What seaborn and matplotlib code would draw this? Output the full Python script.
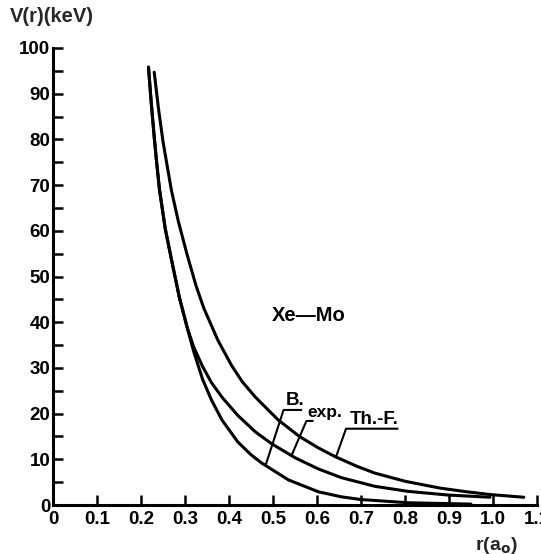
import numpy as np
import pandas as pd
import matplotlib
matplotlib.use("Agg")
import matplotlib.pyplot as plt
import seaborn as sns

# ---- data ----
thf_r = [0.230, 0.240, 0.250, 0.269, 0.285, 0.305, 0.325, 0.343, 0.375, 0.406, 0.430, 0.460,
         0.512, 0.560, 0.603, 0.641, 0.690, 0.731, 0.800, 0.880, 0.940, 0.993, 1.070]
thf_v = [94.7, 86.5, 79.5, 68.9, 62.0, 54.7, 48.0, 43.0, 36.0, 30.5, 27.0, 23.6,
         18.6, 15.0, 12.5, 10.6, 8.5, 7.0, 5.2, 3.7, 2.9, 2.3, 1.7]

common_r = [0.217, 0.223, 0.230, 0.236, 0.242, 0.255, 0.269, 0.287, 0.305]
common_v = [95.8, 88.3, 80.5, 74.5, 69.0, 60.5, 53.8, 45.5, 38.8]

exp_r = common_r + [0.320, 0.340, 0.360, 0.384, 0.420, 0.460, 0.497, 0.551, 0.603, 0.655,
                    0.731, 0.806, 0.896, 0.993]
exp_v = common_v + [34.5, 30.3, 26.8, 23.6, 19.6, 16.0, 13.4, 10.3, 7.9, 6.0,
                    4.1, 3.0, 2.2, 1.7]

b_r = common_r + [0.320, 0.340, 0.360, 0.384, 0.420, 0.450, 0.474, 0.535, 0.603, 0.655,
                  0.700, 0.806, 0.950]
b_v = common_v + [33.5, 27.5, 23.0, 18.6, 13.8, 11.0, 9.2, 5.5, 2.9, 1.8,
                  1.2, 0.5, 0.2]

x_ticks = [0, 0.1, 0.2, 0.3, 0.4, 0.5, 0.6, 0.7, 0.8, 0.9, 1.0, 1.1]
x_labels = ["0", "0.1", "0.2", "0.3", "0.4", "0.5", "0.6", "0.7", "0.8", "0.9", "1.0", "1.1"]
y_ticks = [0, 10, 20, 30, 40, 50, 60, 70, 80, 90, 100]
y_labels = [str(v) for v in y_ticks]

curve_names = ["B.", "exp.", "Th.-F."]

df = pd.concat([
    pd.DataFrame({"r": b_r, "V": b_v, "curve": "B."}),
    pd.DataFrame({"r": exp_r, "V": exp_v, "curve": "exp."}),
    pd.DataFrame({"r": thf_r, "V": thf_v, "curve": "Th.-F."}),
], ignore_index=True)

sns.set_style("ticks")
plt.rcParams["font.family"] = ["Liberation Sans", "DejaVu Sans"]
plt.rcParams["font.weight"] = "bold"

fig = plt.figure(figsize=(5.41, 5.54), dpi=100)
ax = fig.add_axes([0.098, 0.0884, 0.8946, 0.825])

for name in curve_names:
    sub = df[df["curve"] == name]
    sns.lineplot(data=sub, x="r", y="V", ax=ax, color="black", lw=2.2,
                 sort=False, estimator=None, legend=False)

ax.set_xlim(0, 1.1)
ax.set_ylim(0, 100)
ax.set_xlabel("")
ax.set_ylabel("")
sns.despine(ax=ax)
for s in ["left", "bottom"]:
    ax.spines[s].set_linewidth(2.2)
    ax.spines[s].set_color("black")

ax.set_xticks(x_ticks)
ax.set_xticklabels(x_labels)
ax.set_yticks(y_ticks)
ax.set_yticklabels(y_labels)
ax.set_yticks(np.arange(5, 100, 10), minor=True)
ax.tick_params(axis="both", which="both", direction="in", length=7.5, width=1.8,
               color="black", labelsize=13.5, labelcolor="black")
ax.tick_params(axis="y", pad=2)
ax.tick_params(axis="x", pad=4)
for lab in ax.get_xticklabels() + ax.get_yticklabels():
    lab.set_fontweight("bold")

# curve labels with leader lines
def leader(xs, vs, x_attach, corner, end_x, text, tx, tv, size):
    y_attach = float(np.interp(x_attach, xs, vs))
    ax.plot([x_attach, corner[0], end_x], [y_attach, corner[1], corner[1]],
            color="black", lw=1.5, solid_capstyle="butt")
    ax.text(tx, tv, text, ha="center", va="bottom", fontsize=size,
            fontweight="bold", color="black")

leader(b_r, b_v, 0.483, (0.524, 20.8), 0.566, "B.", 0.550, 21.0, 13.5)
leader(exp_r, exp_v, 0.542, (0.576, 18.4), 0.592, "exp.", 0.618, 18.5, 12.5)
leader(thf_r, thf_v, 0.643, (0.666, 16.7), 0.785, "Th.-F.", 0.729, 16.9, 13.5)

ax.text(0.580, 41.4, "Xe—Mo", ha="center", va="center", fontsize=14.5,
        fontweight="bold", color="black")

fig.text(10 / 541, 1 - 16 / 554, "V(r)(keV)", ha="left", va="center",
         fontsize=14.5, fontweight="bold")
fig.text(496 / 541, 1 - 545 / 554, "r(a$_\\mathbf{o}$)", ha="center", va="center",
         fontsize=14, fontweight="bold")

fig.savefig("out.png", dpi=100, facecolor="white")
